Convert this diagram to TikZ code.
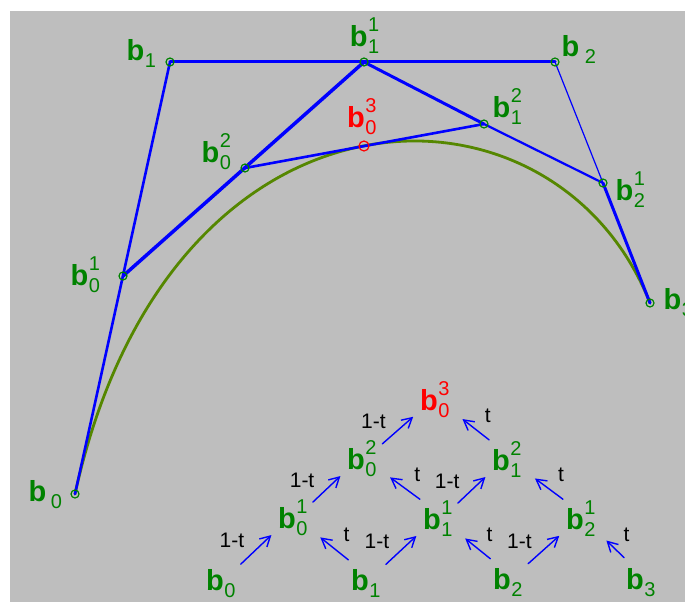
\documentclass[tikz,border=0pt]{standalone}
\usepackage{fontspec}
\setmainfont{Liberation Sans}
\usetikzlibrary{arrows.meta}
\definecolor{bggray}{RGB}{190,190,190}
\definecolor{dgreen}{RGB}{0,130,0}
\definecolor{olive}{RGB}{85,135,0}
\newcommand{\idx}{\fontsize{20}{20}\selectfont}
\newcommand{\bsub}[1]{\textbf{b}\rlap{\kern0.5pt\raisebox{-7pt}[0pt][0pt]{\idx #1}}}
\newcommand{\bsup}[2]{\textbf{b}\rlap{\kern0.5pt\raisebox{-7pt}[0pt][0pt]{\idx #1}}\rlap{\kern0.5pt\raisebox{15pt}[0pt][0pt]{\idx #2}}}
\begin{document}
\begin{tikzpicture}[x=1pt,y=-1pt,line join=round,line cap=round,>={Straight Barb[length=10pt,width=11pt]},
  dot/.style={circle,draw=dgreen,line width=1.2pt,minimum size=8pt,inner sep=0pt},
  lab/.style={text=dgreen,font=\fontsize{29}{30}\selectfont,inner sep=0pt},
  wt/.style={font=\fontsize{21}{21}\selectfont,inner sep=0pt},
  pl/.style={draw=blue},
  lft/.style={->,draw=blue,line width=1.4pt,shorten <=23pt,shorten >=9pt},
  rgt/.style={->,draw=blue,line width=1.4pt,shorten <=15pt,shorten >=31pt},
  lpos/.style={pos=.59,xshift=-24pt,yshift=9pt},
  rpos/.style={pos=.4,xshift=12pt,yshift=14pt}]
\fill[bggray] (10,11) rectangle (685,602);
\useasboundingbox (0,0) rectangle (685,602);
% control points and de Casteljau points
\coordinate (b0) at (75,494);
\coordinate (b1) at (170,62);
\coordinate (b2) at (555,62);
\coordinate (b3) at (650,303);
\coordinate (b01) at (123,276);
\coordinate (b11) at (364,62);
\coordinate (b21) at (603,183);
\coordinate (b02) at (245,168);
\coordinate (b12) at (484,124);
\coordinate (b03) at (364,146);
\draw[olive,line width=2.8pt] (b0) .. controls (b1) and (b2) .. (b3);
\draw[pl,line width=2.6pt] (b0) -- (b1);
\draw[pl,line width=3pt] (b1) -- (b2);
\draw[pl,line width=1.2pt] (b2) -- (b21);
\draw[pl,line width=3pt] (b21) -- (b3);
\draw[pl,line width=3.5pt] (b01) -- (b11);
\draw[pl,line width=3pt] (b11) -- (b12);
\draw[pl,line width=2.2pt] (b12) -- (b21);
\draw[pl,line width=2.6pt] (b02) -- (b12);
\foreach \p in {b0,b1,b2,b3,b01,b11,b21,b02,b12}
  \node[dot] (d\p) at (\p) {};
\node[dot,draw=red,minimum size=10pt] (db03) at (b03) {};
% labels of the points
\node[lab] (l0) at (37.5,491.5) {\bsub{\kern4pt 0}};
\node[lab] (l1) at (135.5,50) {\bsub{1}};
\node[lab] (l2) at (570.5,46) {\bsub{\kern5pt 2}};
\node[lab] (l3) at (672.5,299) {\bsub{3}};
\node[lab] (l01) at (79.5,275) {\bsup{0}{1}};
\node[lab] (l11) at (358.7,36) {\bsup{1}{1}};
\node[lab] (l21) at (624.5,190) {\bsup{2}{1}};
\node[lab] (l02) at (210.5,152.5) {\bsup{0}{2}};
\node[lab] (l12) at (501.5,107.5) {\bsup{1}{2}};
\node[lab,text=red] (l03) at (356,117.5) {\bsup{0}{3}};
% triangle scheme
\node[lab] (t0) at (215,580) {\bsub{0}};
\node[lab] (t1) at (360,580) {\bsub{1}};
\node[lab] (t2) at (502,579) {\bsub{2}};
\node[lab] (t3) at (635,579) {\bsub{3}};
\node[lab] (t01) at (287,518) {\bsup{0}{1}};
\node[lab] (t11) at (432,519) {\bsup{1}{1}};
\node[lab] (t21) at (575,519) {\bsup{2}{1}};
\node[lab] (t02) at (356,459) {\bsup{0}{2}};
\node[lab] (t12) at (501,460) {\bsup{1}{2}};
\node[lab,text=red] (t03) at (429,400) {\bsup{0}{3}};
\foreach \s/\d in {t0/t01,t1/t11,t2/t21,t01/t02,t11/t12,t02/t03}
  \draw[lft] (\s.east) -- node[wt,lpos] (p\s) {1-t} (\d.south west);
\foreach \s/\d in {t1/t01,t2/t11,t3/t21,t11/t02,t21/t12,t12/t03}
  \draw[rgt] (\s.north) -- node[wt,rpos] (q\s) {t} (\d.east);
\end{tikzpicture}
\end{document}
